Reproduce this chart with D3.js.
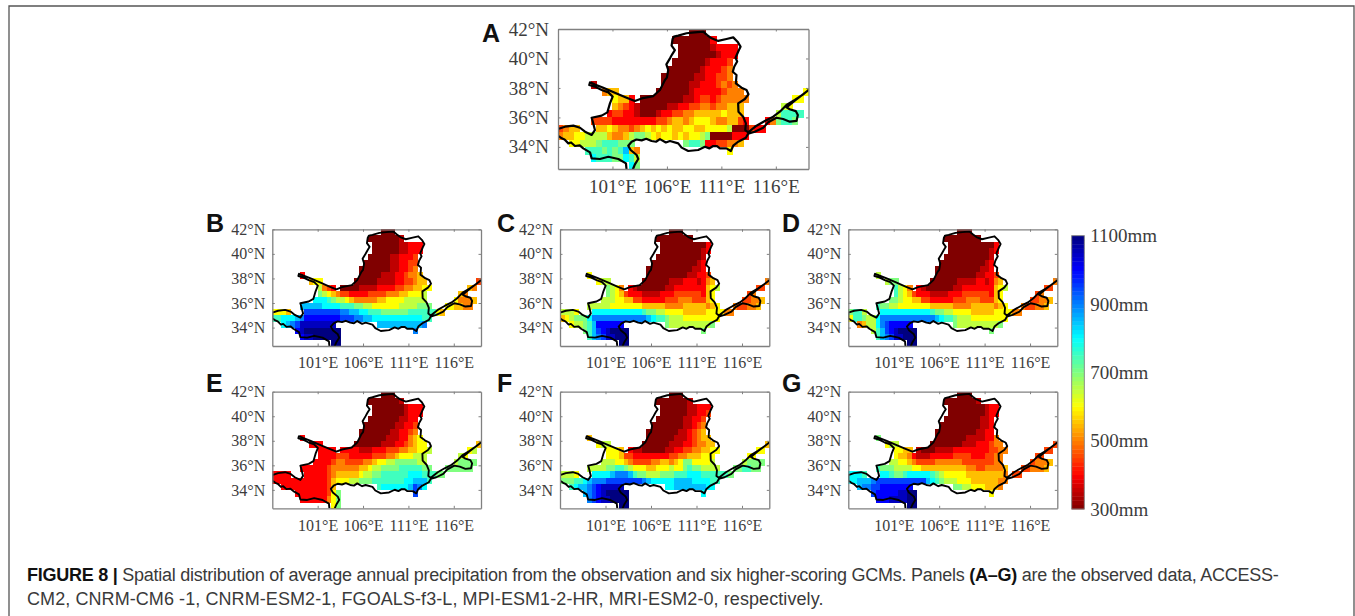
<!DOCTYPE html>
<html><head><meta charset="utf-8">
<script src="https://cdn.jsdelivr.net/npm/d3@7"></script>
<style>
html,body{margin:0;padding:0;background:#fff}
svg{display:block}
text{font-family:"Liberation Serif",serif;fill:#3c3c3c}
.letter{font-family:"Liberation Sans",sans-serif;font-weight:bold;font-size:25px;fill:#111}
.cap{font-family:"Liberation Sans",sans-serif;font-size:18px;fill:#3a3a3a}
.cap .b{font-weight:bold;fill:#111}
</style></head><body>
<svg id="fig" width="1355" height="616"></svg>
<script>
// grid: 0.5 degree cells, one list of [firstCol,lastCol] runs per row from 42N downward, from 96E eastward
const gridRuns = [
 [[24,26]],[[21,28]],[[22,32]],[[22,32]],[[21,31]],[[20,31]],[[19,31]],
 [[6,6],[19,32]],[[8,10],[18,33],[45,45]],[[10,13],[15,34],[43,44]],
 [[10,33],[41,42]],[[9,33],[40,44]],[[6,34],[38,43]],[[0,3],[7,35],[36,37]],
 [[0,34]],[[2,13],[23,33]],[[5,14],[31,31]],[[6,14]],[[13,14]]
];
// precipitation class per cell: digit/letter n means 300 + 50*n mm (0=300 ... g=1100)
const obsA = ["000","00000002","00000012222","00000001222","00000012223","000000122234","0000001122334",
 "1 00000112223434","455 0000001222223444 6","6552 00000000112332344444 66",
 "543210000011223344344555 76","2332210001223344555556555 79999",
 "33332222222233455456665445532 248998","3455 55654434565656556655666670003 22",
 "455667777544578876566565667800002223",
 "667778999888 89982233445","9998989b54 6","a99988a97","a8"];
const modelB = ["000","00000001","00000011222","00000011222","00000112223","000000112233","0000000112234",
 "2 00000111223445","566 0000011112233455 3","7432 00001111222233445566 54",
 "876543322223333444556667 54","aaa9877654444455666677777 64445",
 "bbbbbaaaa99988776666667777888 665544","6665 ddddddddccbbaa999888888999999 65",
 "99aaabceeeeeeeedddccbbaaaaaaaaaaa99","abcdffffffff bbbbbbbbbbc","efgggggggg c","effgggggg","gg"];
const modelC = ["000","00000000","00000000002","00000000012","00000000001","000000000012","0000000000112",
 "6 00000000011223","677 0000001112221245 4","8764 21000000112222222567 33",
 "876532221111222333333256 34","7776655332222233344433356 33445",
 "77777666666655555444455555456 433445","7776 aaaaaaaaaaa988776666555556666 44",
 "567888accccccccccccba998777666666665","67789beeeeee 87777777778","89bdefgggg 8","9bcdffggg","gg"];
const modelD = ["000","00000000","00000000002","00000000012","00000000001","000000000012","0000000000112",
 "7 00000000011223","788 0000001111221245 4","9764 21000000112222222567 33",
 "976532221111222333333256 34","8876655332222233344433356 33445",
 "98877666666655555444455555456 433445","8997 aaaaaaaaaaa988776666555556666 44",
 "699877accccccccccccba998777666666665","4577acdeeeee 87777777778","79bdefgggg 8","9bcdffggg","gg"];
const modelE = ["000","00000001","00000001222","00000001222","00000001122","000000011223","0000000112234",
 "2 00000011122456","222 0000001112234566 5","2222 22221112223334455667 67",
 "222233322222333445666777 76","2222344333344566778888877 78888",
 "22222234444445567788889999988 888888","2222 22222345555567788999999aaa9998 88",
 "22222222222235666778889999999aabbb9","222222222235 9aaaaaabdca","2222222368 d","222222468","68"];
const modelF = ["000","00000001","00000011222","00000011223","00000011223","000000011234","0000000112345",
 "5 00000011123455","677 0000001112234455 5","6665 21100000112233445566 66",
 "666533222222223344555666 66","7776654333344554568866667 78888",
 "77778899876665566676689887777 889988","7776 aaaabcccb988777888999aaa9999999 98",
 "88899abcccddddddddcbaaaaabbbbaaaa99","9abbcdefffff aabbbbbbbaa","bcdefggggg a","cdeffgggg","gg"];
const modelG = ["000","00000001","00000000122","00000000122","00000000112","000000000112","0000000001122",
 "8 00000001111224","677 0000000111222344 3","6655 10001111222222223344 33",
 "655421112222233332223344 33","7766543333444444333333344 34445",
 "98887777665555555555443344445 334445","aaa9 aa9889aaaaa98766666555555554 33",
 "aabbbcdddddddddddba9877766655555544","bccddeeeeeee 88776665554","deeeeeffgg 6","eeeffffgg","gg"];
const panelNames = ["A","B","C","D","E","F","G"];
const panelGrids = [obsA,modelB,modelC,modelD,modelE,modelF,modelG];
// basin outline [lon,lat]
const basinOutline = [[106.64,41.48],[107.04,41.55],[107.8,41.71],[108.57,41.77],[109.33,41.82],[109.7,41.59],[110.1,41.37],[110.71,41.19],[111.47,41.32],[112.09,41.43],[112.48,41.14],[112.76,40.8],[112.57,40.51],[112.3,40.05],[112.45,39.8],[112.18,39.44],[112.05,39.1],[112.39,38.88],[112.33,38.31],[112.85,38.02],[113.31,37.86],[113.49,37.57],[113.16,37.25],[112.54,36.95],[112.57,36.39],[113,36.05],[113.25,35.6],[113.19,35.14],[113.46,34.99],[114.23,35.44],[114.99,35.76],[115.76,36.05],[116.37,36.39],[116.98,36.84],[117.74,37.18],[118.51,37.57],[119,37.86],[117.74,37.14],[116.98,36.68],[117.28,36.55],[117.83,36.43],[118.02,36.16],[117.9,35.76],[117.28,35.71],[116.67,35.89],[116.06,35.98],[115.3,35.67],[114.84,35.3],[114.07,35.03],[113.46,34.9],[113.25,34.62],[112.54,34.35],[112.09,34.08],[111.87,33.72],[111.47,33.9],[110.86,33.9],[110.6,34.05],[110.25,34.06],[109.9,33.9],[109.49,34.01],[108.87,33.79],[107.96,33.72],[107.35,33.95],[107.04,34.24],[106.28,34.4],[105.9,34.3],[105.36,34.53],[105,34.35],[104.59,34.4],[104.1,34.55],[103.68,34.44],[103.2,34.5],[102.76,34.35],[102.45,34.08],[102.67,33.79],[103.22,33.45],[103.37,33.18],[103.06,32.81],[102.85,32.43],[102.3,32.43],[102.24,32.88],[101.54,33.18],[100.62,33.33],[99.85,33.18],[99.09,33.22],[98.94,33.63],[98.32,33.9],[98,34.1],[97.56,34.06],[97.2,34.3],[96.95,34.24],[96.6,34.5],[96.34,34.58],[96,34.76],[96,35.21],[96.64,35.37],[97.41,35.44],[98.02,35.3],[98.48,35.03],[99.09,34.81],[99.39,35.14],[99.18,35.76],[99.09,35.98],[100.01,36.12],[100.53,36.34],[100.77,36.95],[101.02,37.41],[100.62,37.7],[100.01,37.86],[99.39,38.09],[98.87,38.2],[98.94,38.38],[99.39,38.24],[100.16,38.02],[101.38,37.63],[102.3,37.34],[103.06,37.11],[103.68,37.29],[104.75,37.45],[105.36,37.86],[105.82,38.54],[106,38.7],[106.12,39.22],[105.95,39.6],[106.28,40.01],[106.5,40.3],[106.73,40.57],[106.43,40.87],[106.52,41.32]];
const lonTicks = [101,106,111,116];
const latTicks = [34,36,38,40,42];
const barTicks = [300,500,700,900,1100];
const captionLine1 = [["FIGURE 8 | ",1],["Spatial distribution of average annual precipitation from the observation and six higher-scoring GCMs. Panels ",0],["(A–G)",1],[" are the observed data, ACCESS-",0]];
const captionLine2 = "CM2, CNRM-CM6 -1, CNRM-ESM2-1, FGOALS-f3-L, MPI-ESM1-2-HR, MRI-ESM2-0, respectively.";

// page layout
const frames = {
 A:{l:558,r:808.5,t:29,b:169,fs:19,lx:482,ly:42},
 B:{l:272.3,r:481,t:229.3,b:346,fs:16,lx:206,ly:232},
 C:{l:560,r:769.3,t:229.3,b:346,fs:16,lx:497,ly:232},
 D:{l:848.3,r:1057.3,t:229.3,b:346,fs:16,lx:782,ly:232},
 E:{l:272.3,r:481,t:391.7,b:508.3,fs:16,lx:206,ly:392},
 F:{l:560,r:769.3,t:391.7,b:508.3,fs:16,lx:497,ly:392},
 G:{l:848.3,r:1057.3,t:391.7,b:508.3,fs:16,lx:782,ly:392}
};
const svg = d3.select("#fig");
const defs = svg.append("defs");
defs.append("filter").attr("id","soft").append("feGaussianBlur").attr("stdDeviation",0.45);
svg.append("path").attr("d","M9,616V6H1354V616").attr("fill","none").attr("stroke","#555").attr("stroke-width",1.3);

function jet(t){ // reversed jet: 0 dark red ... 1 navy
  const u = 1-t;
  const c = x => Math.round(255*Math.max(0,Math.min(1,x)));
  return `rgb(${c(1.5-Math.abs(4*u-3))},${c(1.5-Math.abs(4*u-2))},${c(1.5-Math.abs(4*u-1))})`;
}
const classCodes = "0123456789abcdefg";
const classValue = d3.scaleLinear().domain([0,16]).range([300,1100]);

panelNames.forEach((name,pi)=>{
  const f = frames[name];
  const x = d3.scaleLinear().domain([96,119]).range([f.l,f.r]);
  const y = d3.scaleLinear().domain([32.5,42]).range([f.b,f.t]);
  const g = svg.append("g").attr("class","panel");
  const cid = "clip"+name;
  defs.append("clipPath").attr("id",cid).append("rect")
    .attr("x",f.l).attr("y",f.t).attr("width",f.r-f.l).attr("height",f.b-f.t);
  const cells = [];
  panelGrids[pi].forEach((row,r)=>{
    const parts = row.split(" ");
    gridRuns[r].forEach((run,k)=>{
      const s = parts[k]||"";
      for(let c=run[0];c<=run[1];c++){
        const ch = s[c-run[0]];
        if(ch===undefined) continue;
        cells.push({lon:96+c*0.5,lat:42-r*0.5,v:classValue(classCodes.indexOf(ch))});
      }
    });
  });
  const m = g.append("g").attr("filter","url(#soft)");
  m.selectAll("rect").data(cells).join("rect")
    .attr("x",d=>x(d.lon)).attr("y",d=>y(d.lat))
    .attr("width",d=>x(d.lon+0.5)-x(d.lon)+0.6)
    .attr("height",d=>y(d.lat-0.5)-y(d.lat)+0.6)
    .attr("shape-rendering","crispEdges")
    .attr("fill",d=>jet((d.v-300)/800));
  const line = d3.line().x(d=>x(d[0])).y(d=>y(d[1])).curve(d3.curveLinearClosed);
  g.append("g").attr("clip-path",`url(#${cid})`).append("path")
    .attr("d",line(basinOutline)).attr("fill","none").attr("stroke","#000")
    .attr("stroke-width",name==="A"?2.2:1.9).attr("stroke-linejoin","round").attr("filter","url(#soft)");
  // axes
  const ax = (sel,gen,tx,ty)=>sel.append("g").attr("transform",`translate(${tx},${ty})`).call(gen)
    .call(a=>a.select(".domain").attr("stroke","#808080").attr("stroke-width",1.3))
    .call(a=>a.selectAll("line").attr("stroke","#808080").attr("stroke-width",1));
  const sz = 2.5;
  const bottom = ax(g,d3.axisBottom(x).tickValues(lonTicks).tickFormat(d=>d+"°E").tickSizeInner(-sz).tickSizeOuter(0).tickPadding(11),0,f.b);
  const left = ax(g,d3.axisLeft(y).tickValues(latTicks).tickFormat(d=>d+"°N").tickSizeInner(-sz).tickSizeOuter(0).tickPadding(name==="A"?9:7),f.l,0);
  ax(g,d3.axisTop(x).tickValues(lonTicks).tickFormat("").tickSizeInner(-sz).tickSizeOuter(0),0,f.t);
  ax(g,d3.axisRight(y).tickValues(latTicks).tickFormat("").tickSizeInner(-sz).tickSizeOuter(0),f.r,0);
  [bottom,left].forEach(a=>a.selectAll("text").attr("font-size",f.fs).style("font-family",'"Liberation Serif",serif').attr("fill","#3c3c3c"));
  g.append("text").attr("class","letter").attr("x",f.lx).attr("y",f.ly).text(name);
});

// colour bar
const barY = d3.scaleLinear().domain([300,1100]).range([509,235.7]);
const barSteps = d3.range(64).map(i=>300+i*12.5);
const bar = svg.append("g").attr("filter","url(#soft)");
bar.selectAll("rect").data(barSteps).join("rect")
  .attr("x",1071.7).attr("width",12.6)
  .attr("y",d=>barY(d+12.5)).attr("height",d=>barY(d)-barY(d+12.5)+0.4)
  .attr("fill",d=>jet((d+6.25-300)/800));
svg.append("rect").attr("x",1071.7).attr("width",12.6).attr("y",235.7).attr("height",273.3)
  .attr("fill","none").attr("stroke","#808080").attr("stroke-width",0.9);
svg.append("g").attr("transform","translate(1084.3,0)")
  .call(d3.axisRight(barY).tickValues(barTicks).tickFormat(d=>d+"mm").tickSizeInner(0).tickSizeOuter(0).tickPadding(6))
  .call(a=>a.select(".domain").remove())
  .call(a=>a.selectAll("text").attr("font-size",19).style("font-family",'"Liberation Serif",serif').attr("fill","#3c3c3c"));

// caption
const c1 = svg.append("text").attr("class","cap").attr("x",27).attr("y",581).attr("letter-spacing",-0.25);
captionLine1.forEach(p=>c1.append("tspan").attr("class",p[1]?"b":null).text(p[0]));
svg.append("text").attr("class","cap").attr("x",27).attr("y",605).attr("letter-spacing",0.08).text(captionLine2);
</script>
</body></html>
